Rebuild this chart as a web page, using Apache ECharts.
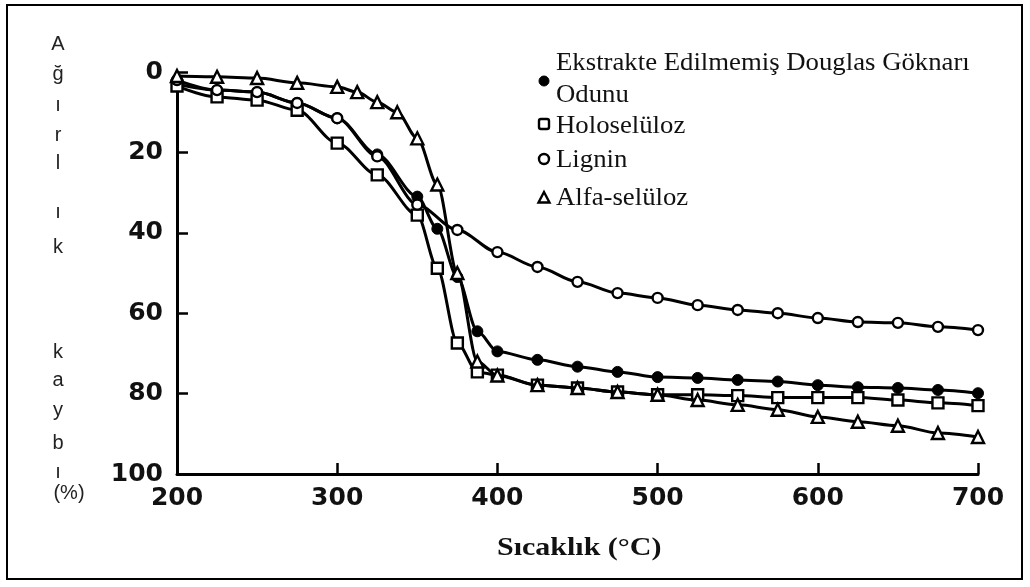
<!DOCTYPE html>
<html>
<head>
<meta charset="utf-8">
<style>
  html, body { margin: 0; padding: 0; background: #fff; }
  #chart { width: 1030px; height: 587px; }
</style>
<script src="https://cdn.jsdelivr.net/npm/echarts@6/dist/echarts.min.js"></script>
</head>
<body>
<div id="chart"></div>
<script>
// Series names
const seriesNames = [
  'Ekstrakte Edilmemiş Douglas Göknarı\nOdunu',
  'Holoselüloz',
  'Lignin',
  'Alfa-selüloz'
];

// Temperature (°C) and weight loss (%) per material
const ekstrakteT = [200, 225, 250, 275, 300, 325, 350, 362.5, 375, 387.5, 400, 425, 450, 475, 500, 525, 550, 575, 600, 625, 650, 675, 700];
const ekstrakteV = [3, 4.5, 5, 7.7, 11.5, 20.5, 31, 39, 51, 64.5, 69.5, 71.6, 73.3, 74.6, 75.9, 76.1, 76.6, 77, 77.9, 78.4, 78.6, 79.1, 79.9];

const holoT = [200, 225, 250, 275, 300, 325, 350, 362.5, 375, 387.5, 400, 425, 450, 475, 500, 525, 550, 575, 600, 625, 650, 675, 700];
const holoV = [3.5, 6.2, 7, 9.5, 17.7, 25.6, 35.6, 48.8, 67.4, 74.6, 75.4, 77.9, 78.6, 79.6, 80.3, 80.3, 80.5, 81, 81, 81, 81.6, 82.3, 83];

const ligninT = [200, 225, 250, 275, 300, 325, 350, 375, 400, 425, 450, 475, 500, 525, 550, 575, 600, 625, 650, 675, 700];
const ligninV = [2, 4.5, 5, 7.7, 11.5, 21, 33, 39.3, 44.8, 48.5, 52.2, 55, 56.2, 58, 59.2, 60, 61.2, 62.2, 62.4, 63.4, 64.2];

const alfaT = [200, 225, 250, 275, 300, 312.5, 325, 337.5, 350, 362.5, 375, 387.5, 400, 425, 450, 475, 500, 525, 550, 575, 600, 625, 650, 675, 700];
const alfaV = [1, 1.2, 1.5, 2.7, 3.7, 5, 7.5, 10, 16.5, 28, 50, 72, 75.5, 77.9, 78.6, 79.6, 80.3, 81.6, 82.8, 84, 85.8, 87, 88, 89.8, 90.8];

// Axis ticks
const xTicks = [200, 300, 400, 500, 600, 700];
const yTicks = [0, 20, 40, 60, 80, 100];

// Vertical y-axis title, one glyph per row
const yTitleGlyphs = ['A', 'ğ', 'ı', 'r', 'l', 'ı', 'k', 'k', 'a', 'y', 'b', 'ı', '(%)'];
const xTitle = 'Sıcaklık (°C)';

const pairs = (t, v) => t.map((x, i) => [x, v[i]]);

const openStyle = { color: '#fff', borderColor: '#000', borderWidth: 2.4 };
const filledStyle = { color: '#000', borderColor: '#000', borderWidth: 1 };

const markerDefs = [
  { symbol: 'circle', size: 11, style: filledStyle },
  { symbol: 'rect', size: 11, style: openStyle },
  { symbol: 'circle', size: 10, style: openStyle },
  { symbol: 'triangle', size: 12, style: openStyle }
];

const seriesData = [
  pairs(ekstrakteT, ekstrakteV),
  pairs(holoT, holoV),
  pairs(ligninT, ligninV),
  pairs(alfaT, alfaV)
];

const drawOrder = [3, 1, 2, 0];
const series = drawOrder.map(i => ({
  name: seriesNames[i],
  type: 'line',
  data: seriesData[i],
  smooth: 0.3,
  smoothMonotone: 'x',
  symbol: markerDefs[i].symbol,
  symbolSize: markerDefs[i].size,
  showAllSymbol: true,
  lineStyle: { color: '#000', width: 3 },
  itemStyle: markerDefs[i].style,
  z: 2 + i
}));

// Legend block drawn as graphic elements
const serif = '"Liberation Serif", "Times New Roman", serif';
const legendRows = [
  { lines: [seriesNames[0].split('\n')[0], seriesNames[0].split('\n')[1]], y: [63, 95], my: 81, m: 0 },
  { lines: [seriesNames[1]], y: [126], my: 124, m: 1 },
  { lines: [seriesNames[2]], y: [160], my: 159, m: 2 },
  { lines: [seriesNames[3]], y: [198], my: 198, m: 3 }
];

const graphics = [];
graphics.push({
  type: 'rect', shape: { x: 7, y: 5, width: 1015, height: 574 },
  style: { fill: 'none', stroke: '#000', lineWidth: 2 }, z: 0
});

legendRows.forEach(row => {
  row.lines.forEach((txt, k) => {
    graphics.push({
      type: 'text', x: 556, y: row.y[k], scaleX: 1.07,
      style: { text: txt, font: '25px ' + serif, fill: '#111', textVerticalAlign: 'middle', textAlign: 'left' }
    });
  });
  const md = markerDefs[row.m];
  let shape;
  if (md.symbol === 'circle') {
    shape = { type: 'circle', shape: { cx: 544, cy: row.my, r: 5 } };
  } else if (md.symbol === 'rect') {
    shape = { type: 'rect', shape: { x: 544 - 5, y: row.my - 5, width: 10, height: 10, r: 2 } };
  } else {
    shape = { type: 'polygon', shape: { points: [[544, row.my - 6], [538.5, row.my + 4.5], [549.5, row.my + 4.5]] } };
  }
  shape.style = { fill: md.style.color, stroke: '#000', lineWidth: md.style === filledStyle ? 1 : 2.4 };
  graphics.push(shape);
});

// x-axis title
graphics.push({
  type: 'text', x: 497, y: 549, scaleX: 1.2,
  style: { text: xTitle, font: 'bold 25px ' + serif, fill: '#111', textVerticalAlign: 'middle', textAlign: 'left' }
});

// y-axis title, stacked letters
const glyphRows = [44, 74, 105, 135, 163, 212, 247, 352, 380, 410, 443, 472, 493];
yTitleGlyphs.forEach((g, i) => {
  graphics.push({
    type: 'text', x: g === '(%)' ? 69 : 58, y: glyphRows[i],
    style: { text: g, font: '20px "Liberation Sans", Arial, sans-serif', fill: '#222', textVerticalAlign: 'middle', textAlign: 'center' }
  });
});

const chart = echarts.init(document.getElementById('chart'), null, { renderer: 'canvas' });
chart.setOption({
  backgroundColor: '#fff',
  animation: false,
  legend: { show: false },
  grid: { left: 177, right: 52, top: 72, bottom: 113, containLabel: false },
  xAxis: {
    type: 'value',
    min: xTicks[0],
    max: xTicks[xTicks.length - 1],
    interval: xTicks[1] - xTicks[0],
    axisLine: { show: true, onZero: false, lineStyle: { color: '#000', width: 3 } },
    axisTick: { show: true, inside: true, length: 11, lineStyle: { color: '#000', width: 2.5 } },
    splitLine: { show: false },
    axisLabel: {
      margin: 12, color: '#111', fontSize: 25, fontWeight: 'bold',
      fontFamily: '"DejaVu Sans", sans-serif'
    }
  },
  yAxis: {
    type: 'value',
    inverse: true,
    min: yTicks[0],
    max: yTicks[yTicks.length - 1],
    interval: yTicks[1] - yTicks[0],
    axisLine: { show: true, lineStyle: { color: '#000', width: 3 } },
    axisTick: { show: true, inside: true, length: 11, lineStyle: { color: '#000', width: 2.5 } },
    splitLine: { show: false },
    axisLabel: {
      margin: 14, color: '#111', fontSize: 25, fontWeight: 'bold',
      fontFamily: '"DejaVu Sans", sans-serif',
      verticalAlign: 'middle'
    }
  },
  graphic: graphics,
  series: series
});
</script>
</body>
</html>
